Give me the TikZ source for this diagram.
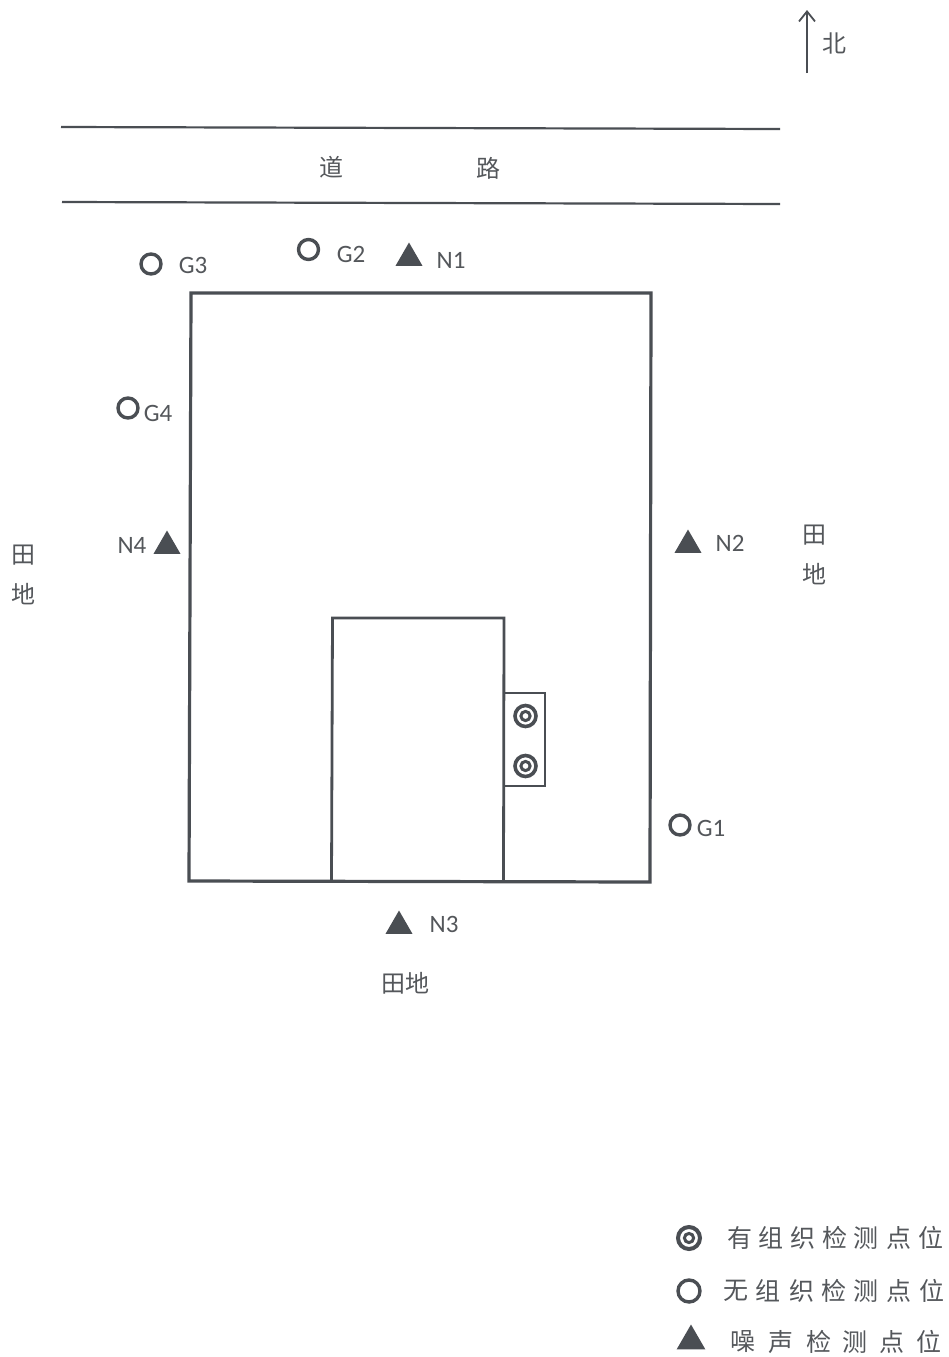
\documentclass[tikz,border=0pt]{standalone}
\usepackage{fontspec}
\setmainfont{Carlito}
\newfontfamily\cjk{Noto Sans CJK SC}[Scale=1]
\usetikzlibrary{shapes.geometric,arrows.meta}
\definecolor{ink}{HTML}{4A4E53}
\definecolor{txt}{HTML}{54575B}
\tikzset{
  wall/.style={draw=ink,line width=3.2pt,line join=miter},
  inner/.style={draw=ink,line width=2.8pt},
  road/.style={draw=ink,line width=2.2pt},
  gpt/.style={circle,draw=ink,line width=3.4pt,fill=white,inner sep=0pt,minimum size=20pt},
  opt/.style={circle,draw=ink,line width=3.6pt,fill=white,inner sep=0pt,minimum size=21pt,
    path picture={\draw[ink,line width=3pt] (path picture bounding box.center) circle (4.6pt);}},
  npt/.style={regular polygon,regular polygon sides=3,fill=ink,inner sep=0pt,minimum size=31pt},
  lab/.style={text=txt,font=\fontsize{25}{25}\selectfont,inner sep=0pt},
  cn/.style={text=txt,font=\cjk\fontsize{24}{24}\selectfont,inner sep=0pt},
  leg/.style={text=txt,font=\cjk\fontsize{25}{25}\selectfont,inner sep=0pt}
}
\begin{document}
\begin{tikzpicture}[x=1pt,y=-1pt]
\path[use as bounding box,fill=white] (0,0) rectangle (948,1357);
% north arrow
\coordinate (nA) at (807,73);
\coordinate (nB) at (807,10);
\draw[ink,line width=1.8pt,-{Straight Barb[length=10pt,width=16pt]}] (nA) -- (nB);
\node[cn] (north) at (834,43) {北};
% road
\draw[road] (61,127) coordinate (r1) -- (780,129) coordinate (r2);
\draw[road] (62,202) coordinate (r3) -- (780,204) coordinate (r4);
\node[cn] (dao) at (331,167) {道};
\node[cn] (lu) at (488,168) {路};
% site
\draw[wall] (191,293) -- (651,293) -- (650,882) -- (189,881) -- cycle;
\draw[inner] (331.5,881) -- (332.5,618) -- (504,618) -- (503.5,882);
\draw[inner,line width=2.6pt] (504,693) -- (545,693) -- (545,786) -- (504,786);
% stacks
\node[opt] (s1) at (525.5,716) {};
\node[opt] (s2) at (525.5,766) {};
% fugitive points
\node[gpt] (g3) at (151,264) {};
\node[lab] (g3t) at (193,265) {G3};
\node[gpt] (g2) at (308.5,249.5) {};
\node[lab] (g2t) at (351,254) {G2};
\node[gpt] (g4) at (128,408) {};
\node[lab] (g4t) at (158,413) {G4};
\node[gpt] (g1) at (680,825) {};
\node[lab] (g1t) at (711,828) {G1};
% noise points
\node[npt] (n1) at (409,258) {};
\node[lab] (n1t) at (451,260) {N1};
\node[npt] (n2) at (688,545) {};
\node[lab] (n2t) at (730,543) {N2};
\node[npt] (n3) at (399,926) {};
\node[lab] (n3t) at (444,924) {N3};
\node[npt] (n4) at (167,546) {};
\node[lab] (n4t) at (132,545) {N4};
% surroundings
\node[cn] (w1) at (24,555) {田};
\node[cn] (w2) at (24,594) {地};
\node[cn] (e1) at (814,535) {田};
\node[cn] (e2) at (814,574) {地};
\node[cn] (s) at (405,983) {田地};
% legend
\node[opt,minimum size=22pt,line width=4pt] (k1) at (689,1238) {};
\node[gpt,minimum size=22pt] (k2) at (689,1291) {};
\node[npt,minimum size=33pt] (k3) at (691,1341) {};
\foreach \t/\x in {有/740,组/771,织/803,检/835,测/866,点/899,位/931}
  \node[leg] at (\x,1238) {\t};
\foreach \t/\x in {无/736,组/768,织/802,检/834,测/866,点/899,位/932}
  \node[leg] at (\x,1291) {\t};
\foreach \t/\x in {噪/743,声/781,检/819,测/855,点/892,位/929}
  \node[leg] at (\x,1342) {\t};
\end{tikzpicture}
\end{document}
